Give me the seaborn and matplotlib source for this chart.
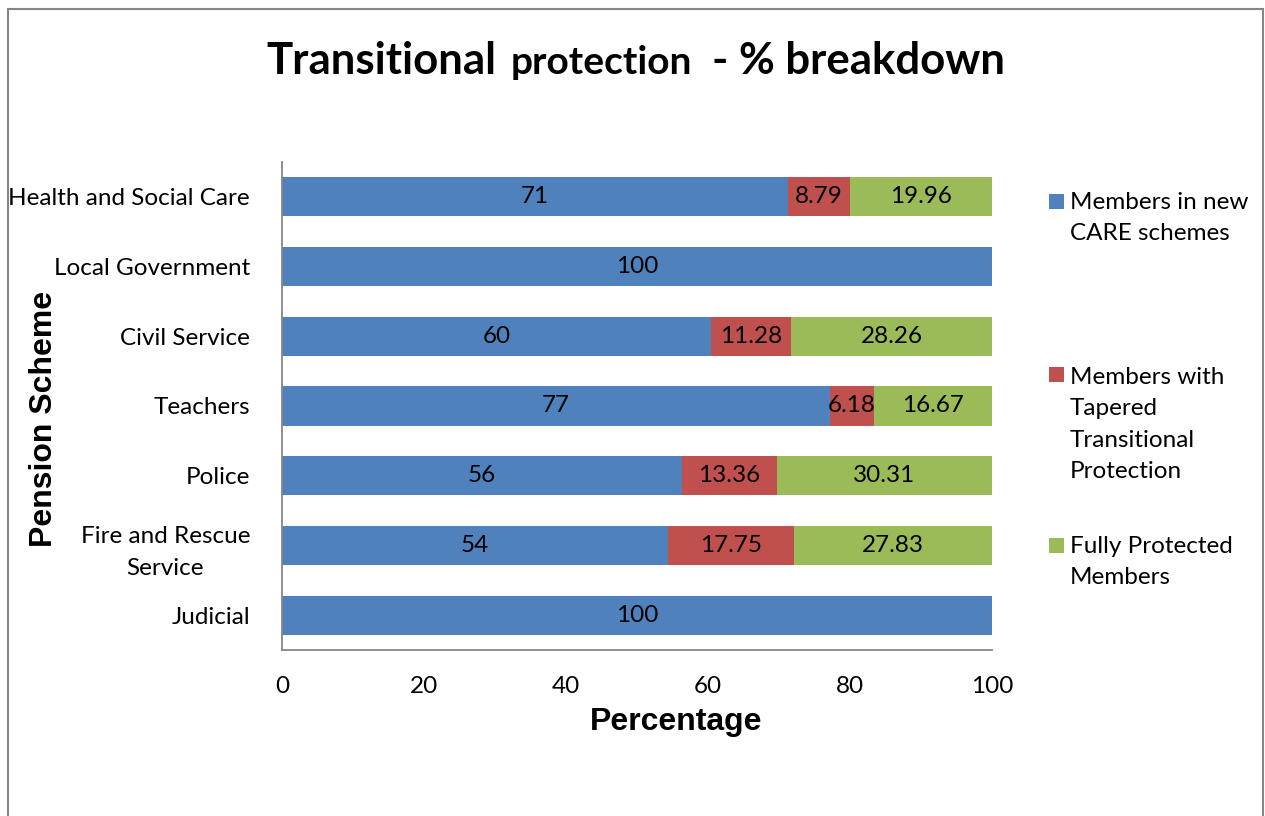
import matplotlib
matplotlib.use("Agg")
import matplotlib.pyplot as plt
import seaborn as sns
import pandas as pd
from matplotlib.patches import Rectangle

# ---------------- data ----------------
schemes = ["Health and Social Care", "Local Government", "Civil Service", "Teachers",
           "Police", "Fire and Rescue\nService", "Judicial"]
care_new = [71.25, 100, 60.46, 77.15, 56.33, 54.42, 100]
tapered = [8.79, 0, 11.28, 6.18, 13.36, 17.75, 0]
fully = [19.96, 0, 28.26, 16.67, 30.31, 27.83, 0]
series_names = ["Members in new\nCARE schemes",
                "Members with\nTapered\nTransitional\nProtection",
                "Fully Protected\nMembers"]
colors = ["#4F81BD", "#C0504D", "#9BBB59"]
x_ticks = [0, 20, 40, 60, 80, 100]

sns.set_theme(style="white")
plt.rcParams["font.family"] = ["Lato", "DejaVu Sans"]
plt.rcParams["text.color"] = "black"
plt.rcParams["axes.labelcolor"] = "black"

W, H = 1265, 816
fig = plt.figure(figsize=(W / 100, H / 100), dpi=100)
fx = lambda x: x / W
fy = lambda y: 1 - y / H

ax = fig.add_axes([fx(282), fy(650), 710 / W, 488 / H])

df = pd.DataFrame({"scheme": schemes, "care": care_new, "tap": tapered, "full": fully})
df["end1"] = df["care"]
df["end2"] = df["care"] + df["tap"]
df["end3"] = df["end2"] + df["full"]

for col, color in zip(["end3", "end2", "end1"], colors[::-1]):
    sns.barplot(data=df, x=col, y="scheme", color=color, orient="h", width=0.56,
                linewidth=0, saturation=1, errorbar=None, ax=ax)

lab_fs = 17.5
for i, r in df.iterrows():
    if r["care"] > 0:
        ax.text(r["care"] / 2, i, f"{r['care']:.0f}", ha="center", va="center", fontsize=lab_fs, color="black")
    if r["tap"] > 0:
        ax.text(r["care"] + r["tap"] / 2, i, f"{r['tap']:.2f}", ha="center", va="center", fontsize=lab_fs, color="black")
    if r["full"] > 0:
        ax.text(r["end2"] + r["full"] / 2, i, f"{r['full']:.2f}", ha="center", va="center", fontsize=lab_fs, color="black")

ax.set_xlim(0, 100)
ax.set_ylim(6.5, -0.5)
ax.set_xticks(x_ticks)
ax.set_xticklabels([str(t) for t in x_ticks])
ax.tick_params(axis="both", length=0, labelsize=lab_fs, colors="black")
ax.tick_params(axis="x", pad=19)
ax.tick_params(axis="y", pad=23)
for t in ax.get_yticklabels():
    t.set_multialignment("center")
    t.set_linespacing(1.6)
for s in ["top", "right"]:
    ax.spines[s].set_visible(False)
for s in ["left", "bottom"]:
    ax.spines[s].set_color("#868686")
    ax.spines[s].set_linewidth(1.3)

axis_font = dict(family=["Liberation Sans", "DejaVu Sans"], weight="bold", size=23, color="black")
ax.set_xlabel("Percentage", **axis_font)
ax.set_ylabel("Pension Scheme", **axis_font)
ax.xaxis.label.set_verticalalignment("center")
ax.yaxis.label.set_verticalalignment("center")
ax.xaxis.set_label_coords((676 - 282) / 710, (650 - 722) / 488)
ax.yaxis.set_label_coords((44 - 282) / 710, (650 - 418.5) / 488)

# legend (manual, Excel-style): square aligned with the first text line
leg_base = [208, 381, 552]
line_step = 32.3
for name, color, yb in zip(series_names, colors, leg_base):
    fig.patches.append(Rectangle((fx(1049), fy(yb + 1)), 15 / W, 15 / H, transform=fig.transFigure,
                                 facecolor=color, edgecolor="none"))
    n_lines = name.count("\n") + 1
    fig.text(fx(1070), fy(yb + (n_lines - 1) * line_step), name, ha="left", va="baseline",
             fontsize=lab_fs, linespacing=1.6, color="black")

# title in pieces of different sizes
fig.canvas.draw()
renderer = fig.canvas.get_renderer()
pieces = [("Transitional", 31.5, 0), ("protection", 28, 14), ("- % breakdown", 31.5, 20)]
texts = []
x = 263
for txt, size, gap in pieces:
    x += gap
    t = fig.text(fx(x), fy(73.5), txt, ha="left", va="baseline", fontsize=size,
                 fontweight="bold", color="black")
    bb = t.get_window_extent(renderer)
    x = x + bb.width
    texts.append(t)
total_w = x - 263
shift = (635.5 - total_w / 2) - 263
for t in texts:
    px, py = t.get_position()
    t.set_position((px + shift / W, py))

# chart border
fig.patches.append(Rectangle((fx(8), fy(830)), (1263 - 8) / W, (830 - 9) / H, transform=fig.transFigure,
                             facecolor="none", edgecolor="#868686", linewidth=1.5))

fig.savefig("out.png", dpi=100)
